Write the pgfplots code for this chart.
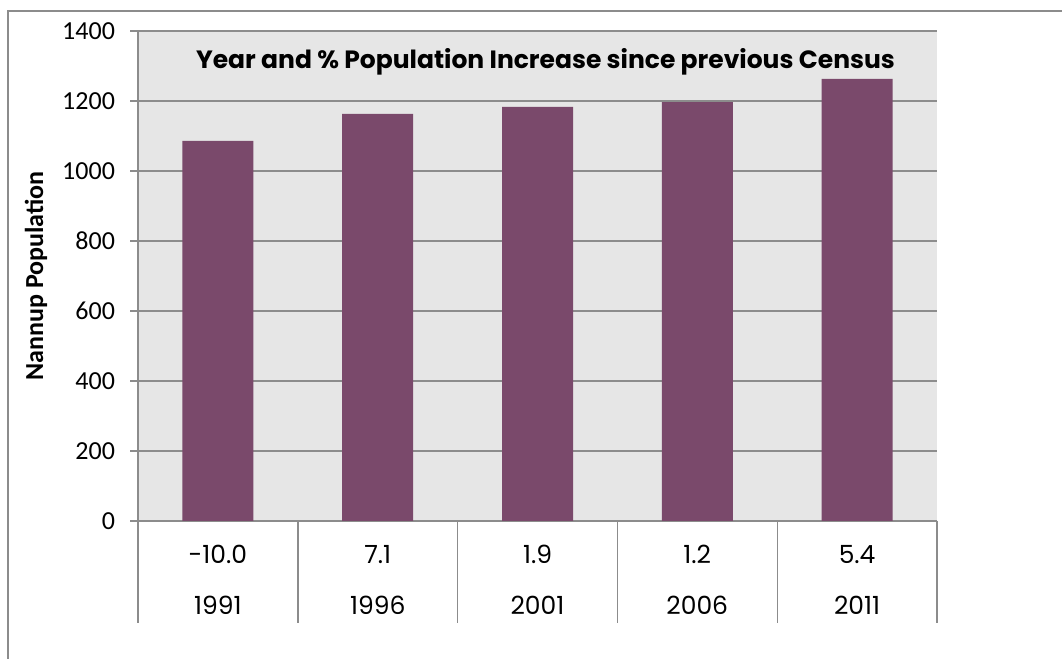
\documentclass[border=0pt]{standalone}
\usepackage{pgfplots}
\pgfplotsset{compat=1.18}
\usepackage{fontspec}
\setmainfont{Carlito}
\newfontfamily\cg{Poppins}
\definecolor{bgcol}{RGB}{230,230,230}
\definecolor{gridcol}{RGB}{140,140,140}
\definecolor{barcol}{RGB}{122,73,107}
\begin{document}
\begin{tikzpicture}[x=0.5pt,y=0.5pt]
\useasboundingbox (0,0) rectangle (1062,659);
\draw[gridcol, line width=0.7pt] (8,-10) -- (8,648) -- (1075,648);
\begin{axis}[
  at={(69pt,69pt)}, anchor=south west,
  scale only axis, width=399.5pt, height=245pt,
  xmin=-0.5, xmax=4.5, ymin=0, ymax=1400,
  ytick={0,200,...,1400},
  xtick={0,1,2,3,4},
  xticklabels={{-10.0\\1991},{7.1\\1996},{1.9\\2001},{1.2\\2006},{5.4\\2011}},
  xticklabel style={font=\cg\fontsize{12.5}{25.5}\selectfont, align=center, text=black, yshift=-4.5pt},
  xtick style={draw=none},
  tick align=outside,
  major tick length=4pt,
  ytick style={draw=gridcol, line width=0.7pt},
  yticklabel style={font=\fontsize{13}{15}\selectfont, xshift=-4pt},
  /pgf/number format/assume math mode=true,
  /pgf/number format/set thousands separator={},
  ymajorgrids,
  grid style={draw=gridcol, line width=0.7pt},
  axis x line*=bottom, axis y line*=left,
  axis line style={draw=gridcol, line width=0.7pt, -},
  axis background/.style={fill=bgcol},
  ybar, bar width=35.5pt,
  ylabel={Nannup Population},
  every axis y label/.style={at={(axis description cs:-0.1277,0.5)}, rotate=90, anchor=center, font=\bfseries\fontsize{13}{15}\selectfont},
  clip=false,
]
\addplot[fill=barcol, draw=none] coordinates {(0,1086) (1,1163) (2,1183) (3,1197) (4,1263)};
\pgfplotsinvokeforeach{-0.5,0.5,1.5,2.5,3.5,4.5}{
  \draw[gridcol, line width=0.7pt] (axis cs:#1,0) -- ++(0pt,-51pt);
}
\node[font=\cg\bfseries\fontsize{12.5}{14}\selectfont, anchor=center] at (rel axis cs:0.51,1) [yshift=-15.5pt] {Year and \% Population Increase since previous Census};
\end{axis}
\end{tikzpicture}
\end{document}
